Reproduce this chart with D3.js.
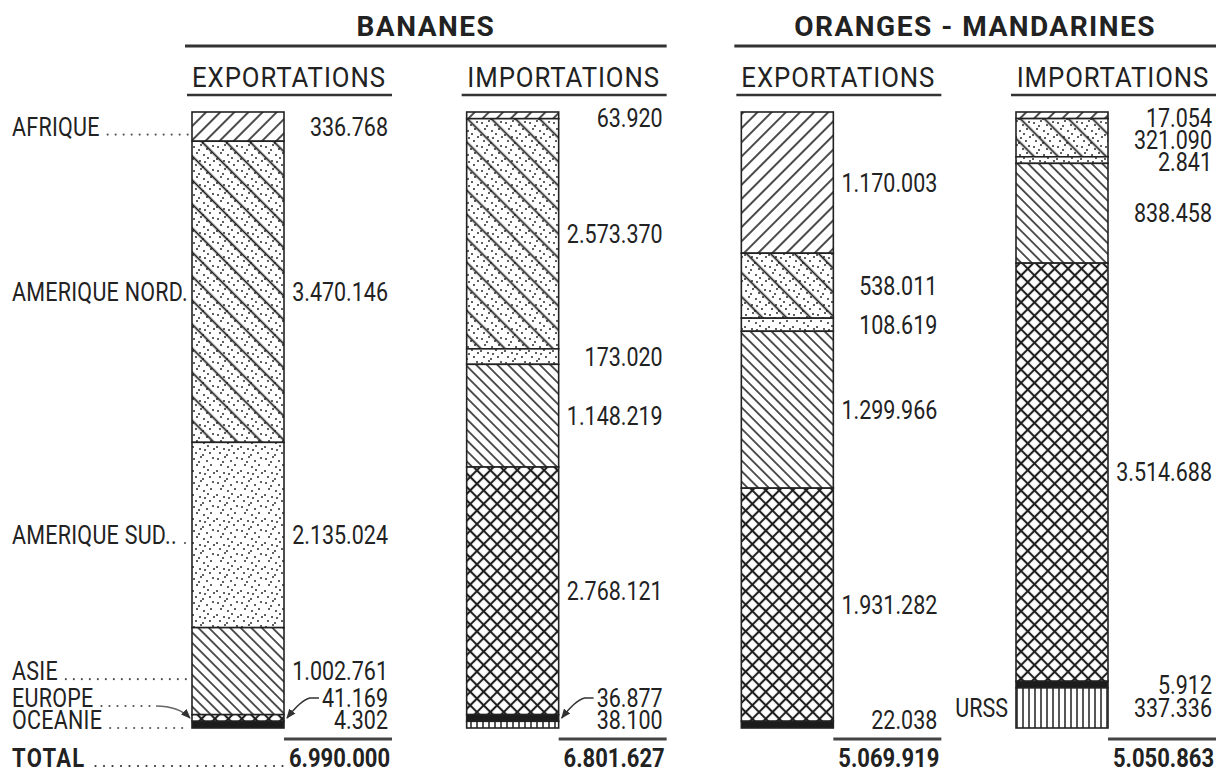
<!DOCTYPE html>
<html>
<head>
<meta charset="utf-8">
<script src="https://cdn.jsdelivr.net/npm/d3@7"></script>
<style>
    body { margin: 0; background: #fff; }
    text { font-family: Roboto, "Liberation Sans", sans-serif; fill: #222; }
</style>
</head>
<body>
<svg></svg>
<script>
const width = 1229;
const height = 772;

// données (tonnes)
const products = ["BANANES", "ORANGES - MANDARINES"];
const flows = ["EXPORTATIONS", "IMPORTATIONS"];
const regions = ["AFRIQUE", "AMERIQUE NORD.", "AMERIQUE SUD..", "ASIE", "EUROPE", "OCEANIE", "URSS"];
const bananesExport = [336768, 3470146, 2135024, 1002761, 41169, 4302, 0];
const bananesImport = [63920, 2573370, 173020, 1148219, 2768121, 36877, 38100];
const orangesExport = [1170003, 538011, 108619, 1299966, 1931282, 22038, 0];
const orangesImport = [17054, 321090, 2841, 838458, 3514688, 5912, 337336];
const totals = [6990000, 6801627, 5069919, 5050863];

const series = [bananesExport, bananesImport, orangesExport, orangesImport];

const barTop = 112;
const barBottom = 728;
const barW = 92;
const minFrac = 0.011;   // hauteur minimale visible d'un segment
const gap = 22;          // espacement minimal entre étiquettes
const narrow = 0.86;     // police étroite

const fmt = d3.formatLocale({ decimal: ",", thousands: ".", grouping: [3], currency: ["", ""] }).format(",d");

let svg = d3.select("svg")
    .attr("width", width)
    .attr("height", height);

const x = d3.scaleLinear().domain([0, 3]).range([192, 1016]);
const labelRight = i => x(i) + 196;

// texte condensé : renvoie la largeur affichée
function label(px, py, str, o = {}) {
    const sx = o.sx || narrow;
    let g = svg.append("g").attr("transform", `translate(${px},${py}) scale(${sx},1)`);
    let t = g.append("text")
        .attr("dy", "0.36em")
        .attr("text-anchor", o.anchor || "start")
        .style("font-size", (o.size || 25) + "px")
        .style("font-weight", o.bold ? "bold" : "normal")
        .style("letter-spacing", (o.ls || 0) + "px")
        .text(str);
    return t.node().getComputedTextLength() * sx;
}

// motifs
const defs = svg.append("defs");

function hatch(id, angle, step, sw, cross) {
    let p = defs.append("pattern")
        .attr("id", id)
        .attr("patternUnits", "userSpaceOnUse")
        .attr("width", step)
        .attr("height", step)
        .attr("patternTransform", `rotate(${angle})`);
    p.append("line")
        .attr("x1", step / 2).attr("y1", -1)
        .attr("x2", step / 2).attr("y2", step + 1)
        .attr("stroke", "#1e1e1e").attr("stroke-width", sw);
    if (cross) {
        p.append("line")
            .attr("x1", -1).attr("y1", step / 2)
            .attr("x2", step + 1).attr("y2", step / 2)
            .attr("stroke", "#1e1e1e").attr("stroke-width", sw);
    }
}
hatch("fwd", 45, 10, 1.6);
hatch("backWide", -45, 17, 1.8);
hatch("back", -45, 7.5, 1.5);
hatch("cross", 45, 9.5, 2.1, true);
hatch("vert", 0, 6, 1.5);

// pointillé (texture)
const dotTile = [[2, 3], [9, 1], [15, 5], [21, 2], [5, 9], [12, 11], [19, 9], [1, 15], [8, 17], [16, 14], [22, 17], [4, 21], [11, 23], [18, 21], [13, 18], [7, 6]];
let dp = defs.append("pattern")
    .attr("id", "dots")
    .attr("patternUnits", "userSpaceOnUse")
    .attr("width", 24).attr("height", 24);
dp.selectAll("circle")
    .data(dotTile)
    .enter()
    .append("circle")
    .attr("cx", d => d[0]).attr("cy", d => d[1])
    .attr("r", 1)
    .attr("fill", "#2a2a2a");

defs.append("marker")
    .attr("id", "arrow")
    .attr("viewBox", "0 0 10 10")
    .attr("refX", 9).attr("refY", 5)
    .attr("markerWidth", 7).attr("markerHeight", 7)
    .attr("orient", "auto")
    .append("path")
    .attr("d", "M0,1 L10,5 L0,9 Z")
    .attr("fill", "#333");

const fills = [["fwd"], ["dots", "backWide"], ["dots"], ["back"], ["cross"], ["solid"], ["vert"]];

// en-têtes
products.forEach((p, j) => {
    const x0 = x(j * 2) - 7;
    const x1 = labelRight(j * 2 + 1) + 4;
    label((x0 + x1) / 2, 26, p, { anchor: "middle", size: 28, bold: true, ls: 1.5, sx: 1 });
    svg.append("line")
        .attr("x1", x0).attr("x2", x1)
        .attr("y1", 46).attr("y2", 46)
        .attr("stroke", "#333").attr("stroke-width", 3);
});

series.forEach((vals, i) => {
    label(x(i) + 97, 77, flows[i % 2], { anchor: "middle", size: 28, ls: 1, sx: 0.92 });
    svg.append("line")
        .attr("x1", x(i) - 5).attr("x2", x(i) + 200)
        .attr("y1", 95).attr("y2", 95)
        .attr("stroke", "#333").attr("stroke-width", 2.5);
});

// barres empilées
const layouts = series.map((vals, i) => {
    const sum = d3.sum(vals);
    const shown = vals.map(v => v > 0 ? Math.max(v, sum * minFrac) : 0);
    const y = d3.scaleLinear().domain([0, d3.sum(shown)]).range([barTop, barBottom]);
    let acc = 0;
    let segs = vals.map((v, k) => {
        const s = { k: k, v: v, y0: y(acc), y1: y(acc + shown[k]) };
        acc += shown[k];
        return s;
    }).filter(s => s.v > 0);
    segs.forEach(s => { s.mid = (s.y0 + s.y1) / 2; s.ly = s.mid; });
    for (let j = segs.length - 1; j >= 0; j--) {
        const lim = j === segs.length - 1 ? barBottom - 8 : segs[j + 1].ly - gap;
        segs[j].ly = Math.min(segs[j].ly, lim);
    }
    for (let j = 0; j < segs.length; j++) {
        const lim = j === 0 ? barTop + 6 : segs[j - 1].ly + gap;
        segs[j].ly = Math.max(segs[j].ly, lim);
    }
    return segs;
});

layouts.forEach((segs, i) => {
    let g = svg.append("g");
    segs.forEach(s => {
        g.append("rect")
            .attr("x", x(i)).attr("y", s.y0)
            .attr("width", barW).attr("height", s.y1 - s.y0)
            .attr("fill", "#fff");
        fills[s.k].forEach(f => {
            g.append("rect")
                .attr("x", x(i)).attr("y", s.y0)
                .attr("width", barW).attr("height", s.y1 - s.y0)
                .attr("fill", f === "solid" ? "#1c1c1c" : `url(#${f})`);
        });
        g.append("rect")
            .attr("x", x(i)).attr("y", s.y0)
            .attr("width", barW).attr("height", s.y1 - s.y0)
            .attr("fill", "none")
            .attr("stroke", "#222").attr("stroke-width", 1.6);
    });

    // valeurs
    const right = labelRight(i);
    segs.forEach(s => {
        const w = label(right, s.ly, fmt(s.v), { anchor: "end" });
        if (Math.abs(s.ly - s.mid) > 10) {
            const sx = right - w - 3;
            const ex = x(i) + barW + 3;
            const p = d3.path();
            p.moveTo(sx, s.ly);
            p.lineTo(sx - 9, s.ly);
            p.quadraticCurveTo(ex + 14, s.ly + 2, ex, s.mid);
            svg.append("path")
                .attr("d", p.toString())
                .attr("fill", "none")
                .attr("stroke", "#333").attr("stroke-width", 1.4)
                .attr("marker-end", "url(#arrow)");
        }
    });

    // total
    svg.append("line")
        .attr("x1", right - 104).attr("x2", right + 4)
        .attr("y1", 739).attr("y2", 739)
        .attr("stroke", "#444").attr("stroke-width", 3);
    const tw = label(right + 2, 758, fmt(totals[i]), { anchor: "end", bold: true, sx: 0.88 });
    if (i === 0) {
        const lw = label(12, 758, "TOTAL", { bold: true, ls: 1.5, sx: 0.88 });
        const a = 12 + lw + 10;
        const b = right + 2 - tw - 6;
        svg.append("line")
            .attr("x1", a).attr("x2", b)
            .attr("y1", 766).attr("y2", 766)
            .attr("stroke", "#333").attr("stroke-width", 2.2)
            .attr("stroke-linecap", "round")
            .attr("stroke-dasharray", "0 8.5");
    }
});

// noms des régions (première colonne) et URSS
layouts[0].forEach(s => {
    const w = label(12, s.ly, regions[s.k], { ls: 0.3 });
    const a = 12 + w + 8;
    const displaced = Math.abs(s.ly - s.mid) > 10;
    const b = displaced ? x(0) - 40 : x(0) - 4;
    if (b > a) {
        svg.append("line")
            .attr("x1", a).attr("x2", b)
            .attr("y1", s.ly + 8).attr("y2", s.ly + 8)
            .attr("stroke", "#555").attr("stroke-width", 2.2)
            .attr("stroke-linecap", "round")
            .attr("stroke-dasharray", "0 8");
    }
    if (displaced) {
        const p = d3.path();
        p.moveTo(b + 4, s.ly + 8);
        p.quadraticCurveTo(x(0) - 14, s.ly + 8, x(0) - 2, s.mid);
        svg.append("path")
            .attr("d", p.toString())
            .attr("fill", "none")
            .attr("stroke", "#666").attr("stroke-width", 1.4)
            .attr("marker-end", "url(#arrow)");
    }
});

const last = layouts[3].find(s => s.k === 6);
label(x(3) - 8, last.ly, regions[6], { anchor: "end" });
</script>
</body>
</html>
